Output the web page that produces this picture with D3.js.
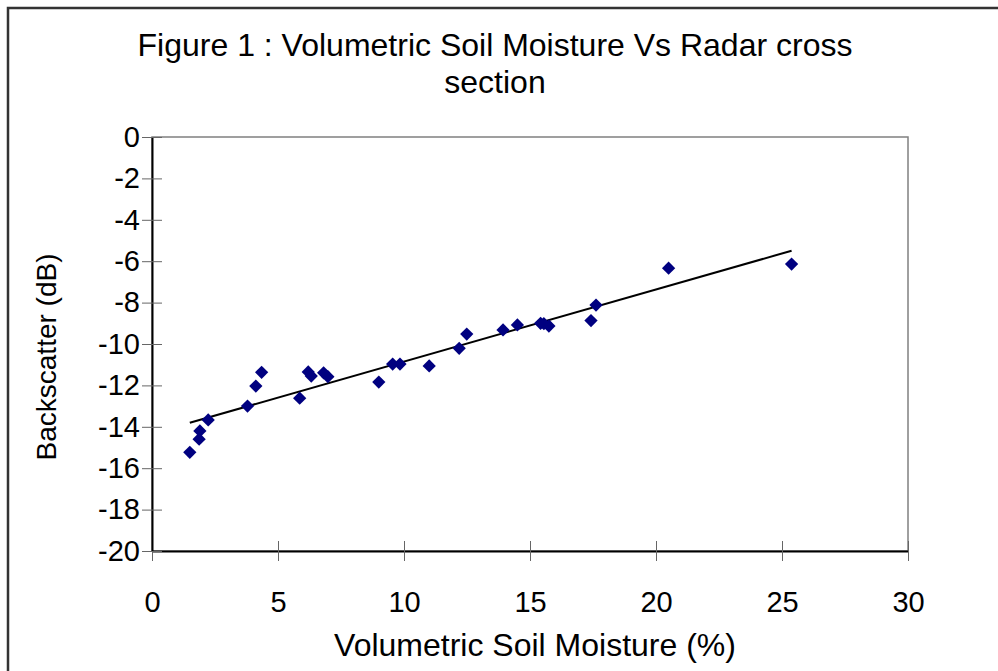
<!DOCTYPE html>
<html>
<head>
<meta charset="utf-8">
<script src="https://cdn.jsdelivr.net/npm/d3@7"></script>
<style>
  body { margin: 0; background: #fff; }
  svg text { font-family: "Liberation Sans", Arial, sans-serif; fill: #000; }
</style>
</head>
<body>
<div id="chart"></div>
<script>

// ======================= //
// DATA
// ======================= //

// soil moisture (%)
var moisture = [1.5, 1.87, 1.9, 2.23, 3.79, 4.12, 4.35, 5.86, 6.2, 6.32, 6.81, 6.98,
  9.0, 9.55, 9.84, 11.0, 12.19, 12.49, 13.93, 14.5, 15.42, 15.55, 15.75, 17.42, 17.62, 20.5, 25.38]
// backscatter (dB) for the same samples
var backscatter = [-15.23, -14.6, -14.2, -13.67, -13.0, -12.03, -11.37, -12.62, -11.35, -11.55, -11.39, -11.58,
  -11.84, -10.97, -10.97, -11.06, -10.21, -9.52, -9.32, -9.08, -9.0, -9.02, -9.13, -8.87, -8.12, -6.34, -6.14]

var xTicks = [0, 5, 10, 15, 20, 25, 30]
var yTicks = [0, -2, -4, -6, -8, -10, -12, -14, -16, -18, -20]

var titleLines = ["Figure 1 : Volumetric Soil Moisture Vs Radar cross", "section"]
var xTitle = "Volumetric Soil Moisture (%)"
var yTitle = "Backscatter (dB)"

var points = moisture.map(function(m, i){ return {x: m, y: backscatter[i]} })

// ======================= //
// SVG AREAS
// ======================= //

var W = 998, H = 671
var margin = {top: 137, right: 90, bottom: 120, left: 152},
  width = W - margin.left - margin.right,
  height = H - margin.top - margin.bottom;

var svg = d3.select("#chart")
  .append("svg")
    .attr("width", W)
    .attr("height", H)

// chart area frame (runs off the right and bottom of the picture)
svg.append("rect")
  .attr("x", 8).attr("y", 8)
  .attr("width", W + 20).attr("height", H + 20)
  .style("fill", "none")
  .style("stroke", "#333")
  .style("stroke-width", 2.5)

var g = svg.append("g")
  .attr("transform", "translate(" + margin.left + "," + margin.top + ")")

// ======================= //
// SCALES and AXES
// ======================= //

var x = d3.scaleLinear().domain([0, 30]).range([0, width])
var y = d3.scaleLinear().domain([-20, 0]).range([height, 0])

// plain hyphen for negatives, like the original
var fmt = function(d){ return String(d) }

// plot area border (grey on top/right)
g.append("rect")
  .attr("width", width).attr("height", height)
  .style("fill", "none")
  .style("stroke", "#808080")
  .style("stroke-width", 1.5)

var xAxis = g.append("g")
  .attr("transform", "translate(0," + height + ")")
  .call(d3.axisBottom(x).tickValues(xTicks).tickFormat(fmt).tickSizeInner(10).tickSizeOuter(0).tickPadding(30))
xAxis.selectAll(".tick line").attr("y1", -10).style("stroke", "#666")
xAxis.select(".domain").style("stroke", "#000").style("stroke-width", 2)
xAxis.selectAll("text").style("font-size", "29px").style("font-family", "Liberation Sans, Arial, sans-serif")

var yAxis = g.append("g")
  .call(d3.axisLeft(y).tickValues(yTicks).tickFormat(fmt).tickSizeInner(10).tickSizeOuter(0).tickPadding(4))
yAxis.selectAll(".tick line").attr("x2", 10).attr("x1", -10).style("stroke", "#666")
yAxis.selectAll(".tick text").attr("x", -12)
yAxis.select(".domain").style("stroke", "#000").style("stroke-width", 2)
yAxis.selectAll("text").style("font-size", "29px").style("font-family", "Liberation Sans, Arial, sans-serif")

// ======================= //
// TREND LINE (least squares)
// ======================= //

var mx = d3.mean(points, function(d){ return d.x }),
    my = d3.mean(points, function(d){ return d.y })
var slope = d3.sum(points, function(d){ return (d.x - mx) * (d.y - my) }) /
            d3.sum(points, function(d){ return (d.x - mx) * (d.x - mx) })
var icpt = my - slope * mx
var xr = d3.extent(points, function(d){ return d.x })

g.append("line")
  .attr("x1", x(xr[0])).attr("y1", y(icpt + slope * xr[0]))
  .attr("x2", x(xr[1])).attr("y2", y(icpt + slope * xr[1]))
  .style("stroke", "#000")
  .style("stroke-width", 2)

// ======================= //
// SHAPES
// ======================= //

g.selectAll(".pt")
  .data(points)
  .enter()
  .append("path")
    .attr("class", "pt")
    .attr("d", d3.symbol(d3.symbolSquare, 88))
    .attr("transform", function(d){ return "translate(" + x(d.x) + "," + y(d.y) + ")rotate(45)" })
    .style("fill", "#000080")

// ======================= //
// TITLES
// ======================= //

svg.selectAll(".title")
  .data(titleLines)
  .enter()
  .append("text")
    .attr("class", "title")
    .attr("x", 495)
    .attr("y", function(d, i){ return 56 + i * 37 })
    .attr("text-anchor", "middle")
    .style("font-size", "32px")
    .text(function(d){ return d })

svg.append("text")
  .attr("x", 535).attr("y", 656)
  .attr("text-anchor", "middle")
  .style("font-size", "32px")
  .text(xTitle)

svg.append("text")
  .attr("transform", "translate(56,357)rotate(-90)")
  .attr("text-anchor", "middle")
  .style("font-size", "28px")
  .text(yTitle)

</script>
</body>
</html>
